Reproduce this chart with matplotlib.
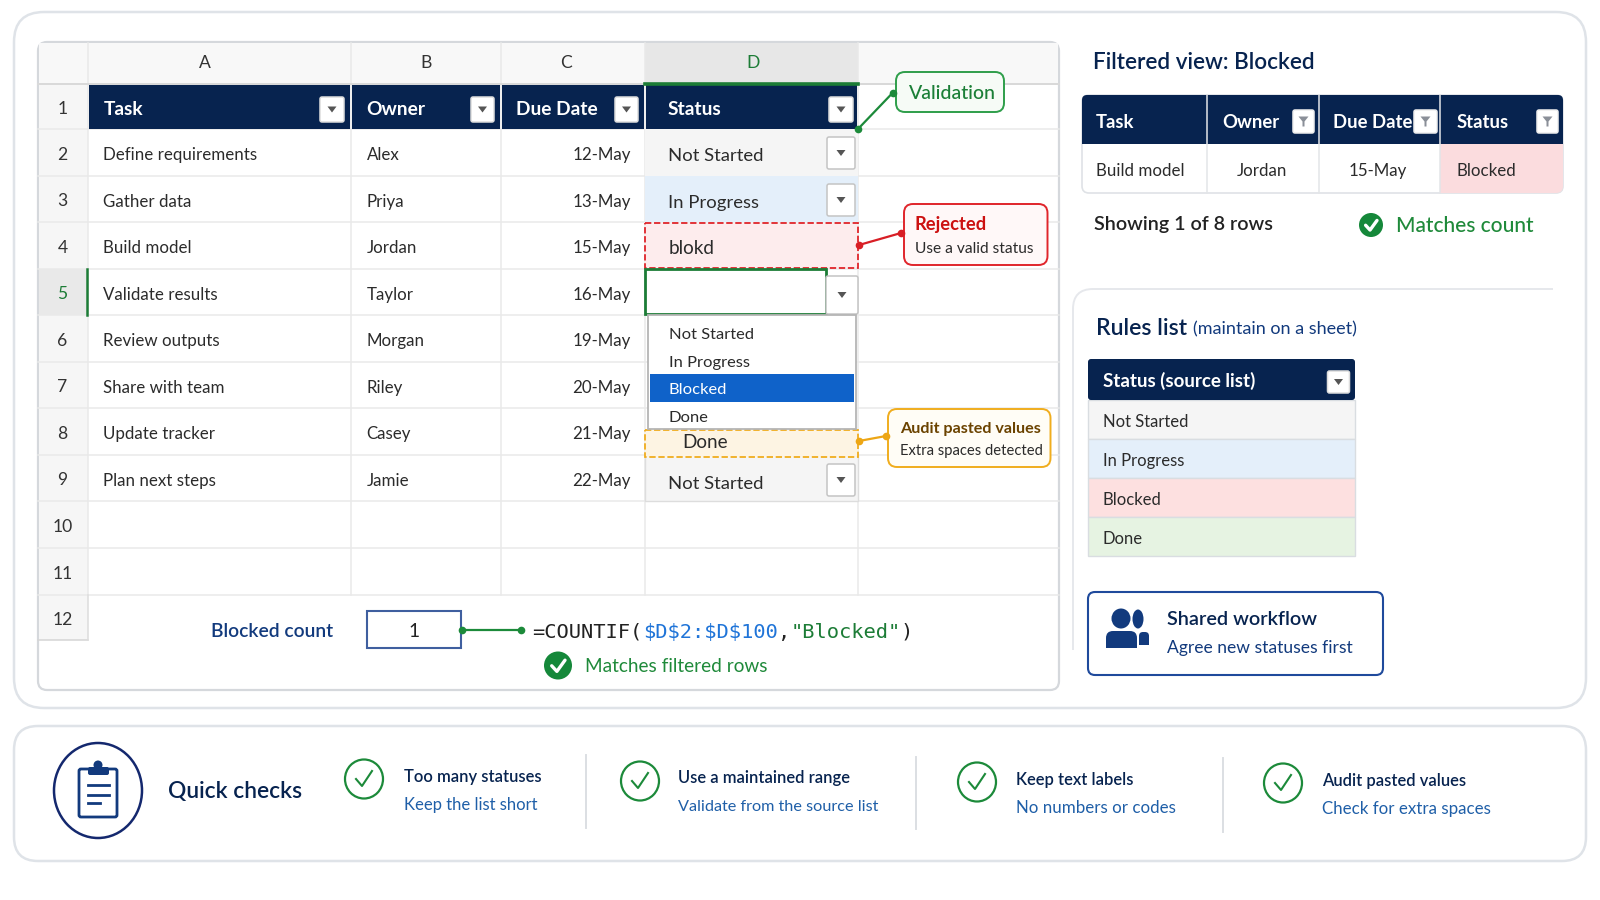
import matplotlib
matplotlib.use('Agg')
from matplotlib import pyplot as plt
from matplotlib.patches import FancyBboxPatch, Rectangle, Ellipse, Polygon, PathPatch
from matplotlib.path import Path

plt.rcParams['font.family'] = ['Lato', 'DejaVu Sans']

# sheet content
col_letters = ['A', 'B', 'C', 'D']
headers = ['Task', 'Owner', 'Due Date', 'Status']
tasks = ['Define requirements', 'Gather data', 'Build model', 'Validate results',
         'Review outputs', 'Share with team', 'Update tracker', 'Plan next steps']
owners = ['Alex', 'Priya', 'Jordan', 'Taylor', 'Morgan', 'Riley', 'Casey', 'Jamie']
due_dates = ['12-May', '13-May', '15-May', '16-May', '19-May', '20-May', '21-May', '22-May']
status_options = ['Not Started', 'In Progress', 'Blocked', 'Done']
source_fills = ['#f5f5f5', '#e4effa', '#fde0e0', '#e6f3e2']
row_numbers = list(range(1, 13))
checks_title = ['Too many statuses', 'Use a maintained range', 'Keep text labels', 'Audit pasted values']
checks_sub = ['Keep the list short', 'Validate from the source list', 'No numbers or codes', 'Check for extra spaces']

# sheet geometry in pixels
col_x = [88, 351, 501, 645, 858]
row_y = [84, 129, 176, 222, 269, 315, 362, 408, 455, 501, 548, 595, 640]

NAVY = '#07234f'
BLUE = '#123a7d'
GREEN = '#1f8a3a'
DARK = '#2b2b2b'
GRID = '#e9e9e9'
BASE = 12.2


def box(ax, x0, y0, x1, y1, r=0, fc='none', ec='none', lw=1.0, ls='-', z=2):
    if r:
        p = FancyBboxPatch((x0, y0), x1 - x0, y1 - y0, boxstyle=f'round,pad=0,rounding_size={r}',
                           fc=fc, ec=ec, lw=lw, ls=ls, zorder=z)
    else:
        p = Rectangle((x0, y0), x1 - x0, y1 - y0, fc=fc, ec=ec, lw=lw, ls=ls, zorder=z)
    ax.add_patch(p)


def txt(ax, x, y, s, size=BASE, color=DARK, weight='normal', ha='left', family=None, z=6):
    # baseline placement keeps a row level whatever descenders its text has
    kw = {'family': family} if family else {}
    ax.text(x, y + size * 0.5, s, fontsize=size, color=color, fontweight=weight, ha=ha, va='baseline', zorder=z,
            parse_math=False, **kw)


def arrow_btn(ax, x0, y0, x1, y1, funnel=False, ec='#c4c4c4', z=4):
    box(ax, x0, y0, x1, y1, r=2, fc='white', ec=ec, lw=1.1, z=z)
    cx, cy = (x0 + x1) / 2, (y0 + y1) / 2
    if funnel:
        ax.add_patch(Polygon([(cx - 5, cy - 5), (cx + 5, cy - 5), (cx + 1, cy), (cx + 1, cy + 5), (cx - 1, cy + 5),
                              (cx - 1, cy)], fc='#8a8f98', ec='none', zorder=z + 1))
    else:
        ax.add_patch(Polygon([(cx - 4.5, cy - 3), (cx + 4.5, cy - 3), (cx, cy + 3)], fc='#555555', ec='none', zorder=z + 1))


def link(ax, x0, y0, x1, y1, color, z=7):
    ax.plot([x0, x1], [y0, y1], color=color, lw=1.6, zorder=z, solid_capstyle='round')
    ax.plot([x0, x1], [y0, y1], 'o', color=color, ms=5.5, mec='none', zorder=z)


def badge(ax, cx, cy, r):
    ax.add_patch(Ellipse((cx, cy), 2 * r, 2 * r, fc='#15883a', ec='none', zorder=5))
    ax.plot([cx - r * .45, cx - r * .08, cx + r * .5], [cy + r * .02, cy + r * .42, cy - r * .38],
            color='white', lw=2.4, zorder=6, solid_capstyle='round')


def ring_check(ax, cx, cy):
    ax.add_patch(Ellipse((cx, cy), 38, 39, fc='none', ec='#1c8a3a', lw=1.6, zorder=5))
    ax.plot([cx - 8, cx - 2, cx + 8], [cy + 0, cy + 7, cy - 8], color='#1c8a3a', lw=1.5, zorder=6)


def draw_sheet(ax):
    box(ax, 38, 42, 1059, 690, r=9, fc='white', ec='#d5d8dc', lw=1.6, z=1)
    # column letter band and row number band
    box(ax, 39, 43, 1058, 84, r=0, fc='#f8f8f8', z=1.5)
    box(ax, 39, 84, 88, 640, fc='#f6f6f6', z=1.5)
    box(ax, 645, 43, 858, 84, fc='#e7e7e7', z=1.6)
    box(ax, 39, 269, 88, 315, fc='#e9e9e9', z=1.6)

    for y in row_y[:-1]:
        ax.plot([38, 1059], [y, y], color=GRID, lw=1.1, zorder=1.8)
    for x in col_x:
        ax.plot([x, x], [43, 595], color=GRID, lw=1.1, zorder=1.8)
    ax.plot([38, 88], [640, 640], color='#d5d5d5', lw=1.1, zorder=1.8)
    ax.plot([88, 88], [595, 640], color='#dddddd', lw=1.1, zorder=1.8)
    ax.plot([38, 1059], [84, 84], color='#d9d9d9', lw=1.4, zorder=1.8)
    ax.plot([87, 87], [269, 315], color='#1c7c36', lw=1.8, zorder=3)
    ax.plot([645, 858], [84, 84], color='#1c7c36', lw=2.6, zorder=4)

    for i, letter in enumerate(col_letters):
        color = '#1c7c36' if letter == 'D' else '#333333'
        offset = -15 if i == 0 else (-7 if i == 2 else 2 if i == 3 else 0)
        txt(ax, (col_x[i] + col_x[i + 1]) / 2 + offset, 62, letter, color=color, ha='center', size=12.6)

    for n, y0, y1 in zip(row_numbers, row_y[:-1], row_y[1:]):
        color = '#1c7c36' if n == 5 else '#333333'
        txt(ax, 62.5, (y0 + y1) / 2 + 1, str(n), color=color, ha='center', size=12.6)

    # frozen header row
    btn_x = [(320, 344), (471, 494), (615, 638), (829, 853)]
    for i, h in enumerate(headers):
        box(ax, col_x[i] + .8, 85, col_x[i + 1] - .8, 128.5, fc=NAVY, z=3)
        txt(ax, col_x[i] + 15.5 if i < 3 else 668, 108, h, color='white', weight='bold', size=13.8)
        arrow_btn(ax, btn_x[i][0], 97, btn_x[i][1], 122, ec='#dddddd')

    for i in range(8):
        y = (row_y[i + 1] + row_y[i + 2]) / 2 + 1.7
        txt(ax, 103, y, tasks[i])
        txt(ax, 366.5, y, owners[i])
        txt(ax, 631, y, due_dates[i], ha='right')

    # status column, one state per row
    box(ax, 645, 129, 858, 176, fc='#f5f5f5', z=2)
    txt(ax, 668, 154, status_options[0], size=13.3)
    arrow_btn(ax, 827, 137, 855, 169)
    box(ax, 645, 176, 858, 222, fc='#e4effa', z=2)
    txt(ax, 668, 201, status_options[1], size=13.3)
    arrow_btn(ax, 827, 184, 855, 216)
    box(ax, 645, 222.5, 858, 268, fc='#fdeced', ec='#e0252b', lw=1.3, ls=(0, (3.5, 1.5)), z=3)
    txt(ax, 669, 247, 'blokd', size=13.6)
    box(ax, 645, 269, 826, 314, fc='white', ec='#1c7c36', lw=2, z=3)
    arrow_btn(ax, 826, 276, 858, 314)
    box(ax, 645, 430, 858, 457, fc='#fdf4e3', ec='#f0ad1e', lw=1.3, ls=(0, (3.5, 1.5)), z=3)
    txt(ax, 682, 441, status_options[3], size=13.6)
    box(ax, 645, 455, 858, 501, fc='#f5f5f5', ec='#dddddd', lw=1, z=2)
    txt(ax, 668, 482, status_options[0], size=13.3)
    arrow_btn(ax, 827, 464, 855, 496)

    # open dropdown
    box(ax, 648, 315, 856, 429, fc='white', ec='#b5b5b5', lw=1.3, z=4)
    box(ax, 650, 374, 854, 402, fc='#0f62c9', z=4.5)
    for opt, y in zip(status_options, [333, 361, 388.5, 416]):
        txt(ax, 669, y, opt, size=11.85, color='white' if opt == 'Blocked' else DARK)

    # callouts
    box(ax, 896, 72, 1004, 112, r=9, fc='#f6fbf6', ec='#2e9e4a', lw=1.4, z=5)
    txt(ax, 909, 92, 'Validation', color='#1b7f37', size=14, weight='medium')
    link(ax, 858, 129, 892.5, 93, '#1c8a3a')
    box(ax, 904, 204, 1047.5, 265, r=9, fc='#fff8f8', ec='#e0252b', lw=1.4, z=5)
    txt(ax, 915, 223, 'Rejected', color='#cc1111', size=13.2, weight='bold')
    txt(ax, 915, 247, 'Use a valid status', size=11.2)
    link(ax, 859, 245, 901, 233, '#d81e25')
    box(ax, 888, 409, 1050.5, 467, r=9, fc='#fffdf6', ec='#f0ad1e', lw=1.4, z=5)
    txt(ax, 900, 427.5, 'Audit pasted values', color='#6b4300', size=11.6, weight='bold')
    txt(ax, 900, 449.5, 'Extra spaces detected', size=10.6)
    link(ax, 859, 441, 886, 436, '#eda615')

    # count row
    txt(ax, 333, 630, 'Blocked count', color=BLUE, size=13.9, weight='semibold', ha='right')
    box(ax, 367, 611, 461, 648, fc='white', ec='#3f5f9f', lw=1.5, z=3)
    txt(ax, 414, 630, '1', size=13.8, ha='center', color='#222222')
    link(ax, 462, 629.5, 521, 629.5, '#1c8a3a')
    pieces = [('=COUNTIF(', '#222222'), ('$D$2:$D$100', '#1f74d8'), (',', '#222222'),
              ('"Blocked"', '#1c7c36'), (')', '#222222')]
    x, adv = 532, 12.3
    for piece, color in pieces:
        txt(ax, x, 630.5, piece, size=14.7, color=color, family='DejaVu Sans Mono')
        x += adv * len(piece)
    badge(ax, 558, 665.5, 14)
    txt(ax, 585, 665, 'Matches filtered rows', color=GREEN, size=13.7)


def draw_side(ax):
    txt(ax, 1093, 61, 'Filtered view: Blocked', color=NAVY, size=16.2, weight='semibold')

    # filtered table
    fx = [1082, 1207, 1319, 1440, 1563]
    box(ax, 1082, 95, 1563, 193, r=7, fc='white', ec='#dfe2e6', lw=1.2, z=2)
    box(ax, 1440, 144, 1563, 193, r=7, fc='#fbdcde', z=2.2)
    box(ax, 1440, 144, 1500, 193, fc='#fbdcde', z=2.2)
    box(ax, 1440, 144, 1563, 170, fc='#fbdcde', z=2.2)
    box(ax, 1082, 95, 1563, 144, r=5, fc=NAVY, z=3)
    box(ax, 1082, 120, 1563, 144, fc=NAVY, z=3)
    for x in fx[1:-1]:
        ax.plot([x, x], [95, 193], color='#e3e5e8', lw=1.1, zorder=3.5)
    for h, x in zip(headers, [1096, 1222, 1333, 1457]):
        txt(ax, x, 121, h, color='white', weight='bold', size=13.3)
    for x0, x1 in [(1293, 1314), (1414, 1437), (1537, 1558)]:
        arrow_btn(ax, x0, 110, x1, 133, funnel=True, ec='#eeeeee')
    txt(ax, 1096, 170, tasks[2])
    txt(ax, 1262, 170, owners[2], ha='center')
    txt(ax, 1378, 170, due_dates[2], ha='center')
    txt(ax, 1457, 170, status_options[2])

    txt(ax, 1094, 223, 'Showing 1 of 8 rows', size=14.2, color='#222222', weight='semibold')
    badge(ax, 1371, 225, 12)
    txt(ax, 1396, 224, 'Matches count', size=15, color=GREEN, weight='medium')

    # rules panel only has a left and a top edge
    verts = [(1073, 650), (1073, 309), (1073, 289), (1093, 289), (1553, 289)]
    codes = [Path.MOVETO, Path.LINETO, Path.CURVE3, Path.CURVE3, Path.LINETO]
    ax.add_patch(PathPatch(Path(verts, codes), fc='none', ec='#e6e8ec', lw=1.4, zorder=1))

    txt(ax, 1096, 327, 'Rules list', color=NAVY, size=16.6, weight='semibold')
    txt(ax, 1193, 328, '(maintain on a sheet)', color=BLUE, size=13)

    box(ax, 1088, 359, 1355, 400, r=3, fc=NAVY, z=3)
    txt(ax, 1103, 380, 'Status (source list)', color='white', weight='bold', size=13.5)
    arrow_btn(ax, 1327.5, 371, 1349.5, 393, ec='#dddddd')
    ys = [400, 439, 478, 517, 556]
    for opt, fill, y0, y1 in zip(status_options, source_fills, ys[:-1], ys[1:]):
        box(ax, 1088, y0, 1355, y1, fc=fill, ec='#d9dde1', lw=1, z=2)
        txt(ax, 1103, (y0 + y1) / 2 + 1.5, opt, size=12)

    # shared workflow card
    box(ax, 1088, 592, 1383, 675, r=7, fc='white', ec='#1f4a9c', lw=1.5, z=2)
    ax.add_patch(Ellipse((1121, 618.5), 19, 20, fc=BLUE, ec='none', zorder=4))
    ax.add_patch(Ellipse((1138, 619), 11, 19, fc=BLUE, ec='none', zorder=3.5))
    box(ax, 1106, 631, 1137, 648, r=7, fc=BLUE, z=4)
    box(ax, 1106, 640, 1137, 648, fc=BLUE, z=4)
    box(ax, 1139, 632, 1149, 645, r=4, fc=BLUE, z=4)
    box(ax, 1139, 640, 1149, 645, fc=BLUE, z=4)
    txt(ax, 1167, 618, 'Shared workflow', color=NAVY, size=14.3, weight='semibold')
    txt(ax, 1167, 647, 'Agree new statuses first', color=BLUE, size=12.6)


def draw_checks(ax):
    ax.add_patch(Ellipse((98, 790.5), 88, 95, fc='white', ec='#14286e', lw=1.8, zorder=3))
    box(ax, 79, 769, 117, 817, r=2, fc='white', ec=BLUE, lw=2, z=4)
    box(ax, 88, 767, 109, 775, r=2, fc=BLUE, z=5)
    ax.add_patch(Ellipse((98, 765), 9, 9, fc=BLUE, ec='none', zorder=5))
    for y, x1 in [(785, 109), (795, 109), (803, 100)]:
        ax.plot([88, x1], [y, y], color=BLUE, lw=2, zorder=5)
    txt(ax, 168, 790, 'Quick checks', color=NAVY, size=16.4, weight='semibold')

    circle_x = [364, 640, 977, 1283]
    circle_y = [779, 781, 782, 783]
    text_x = [404, 677.5, 1016, 1322]
    title_y = [776, 777, 779, 780]
    sub_size = [12, 11.7, 12.2, 12.2]
    for i in range(4):
        ring_check(ax, circle_x[i], circle_y[i])
        txt(ax, text_x[i], title_y[i], checks_title[i], color=NAVY, size=11.9, weight='semibold')
        txt(ax, text_x[i], title_y[i] + 28, checks_sub[i], color='#1f5fa8', size=sub_size[i])
    for x, y0, y1 in [(586, 755, 828), (916, 757, 829), (1223, 758, 832)]:
        ax.plot([x, x], [y0, y1], color='#dcdfe3', lw=1.4, zorder=2)


if __name__ == '__main__':
    fig = plt.figure(figsize=(16, 9), dpi=100, facecolor='white')
    ax = fig.add_axes([0, 0, 1, 1])
    ax.set_xlim(0, 1600)
    ax.set_ylim(900, 0)
    ax.axis('off')

    box(ax, 14, 12, 1586, 708, r=30, fc='white', ec='#dfe3e8', lw=1.8, z=0.5)
    box(ax, 14, 726, 1586, 861, r=24, fc='white', ec='#dfe3e8', lw=1.8, z=0.5)

    draw_sheet(ax)
    draw_side(ax)
    draw_checks(ax)

    fig.savefig('out.png', dpi=100)
